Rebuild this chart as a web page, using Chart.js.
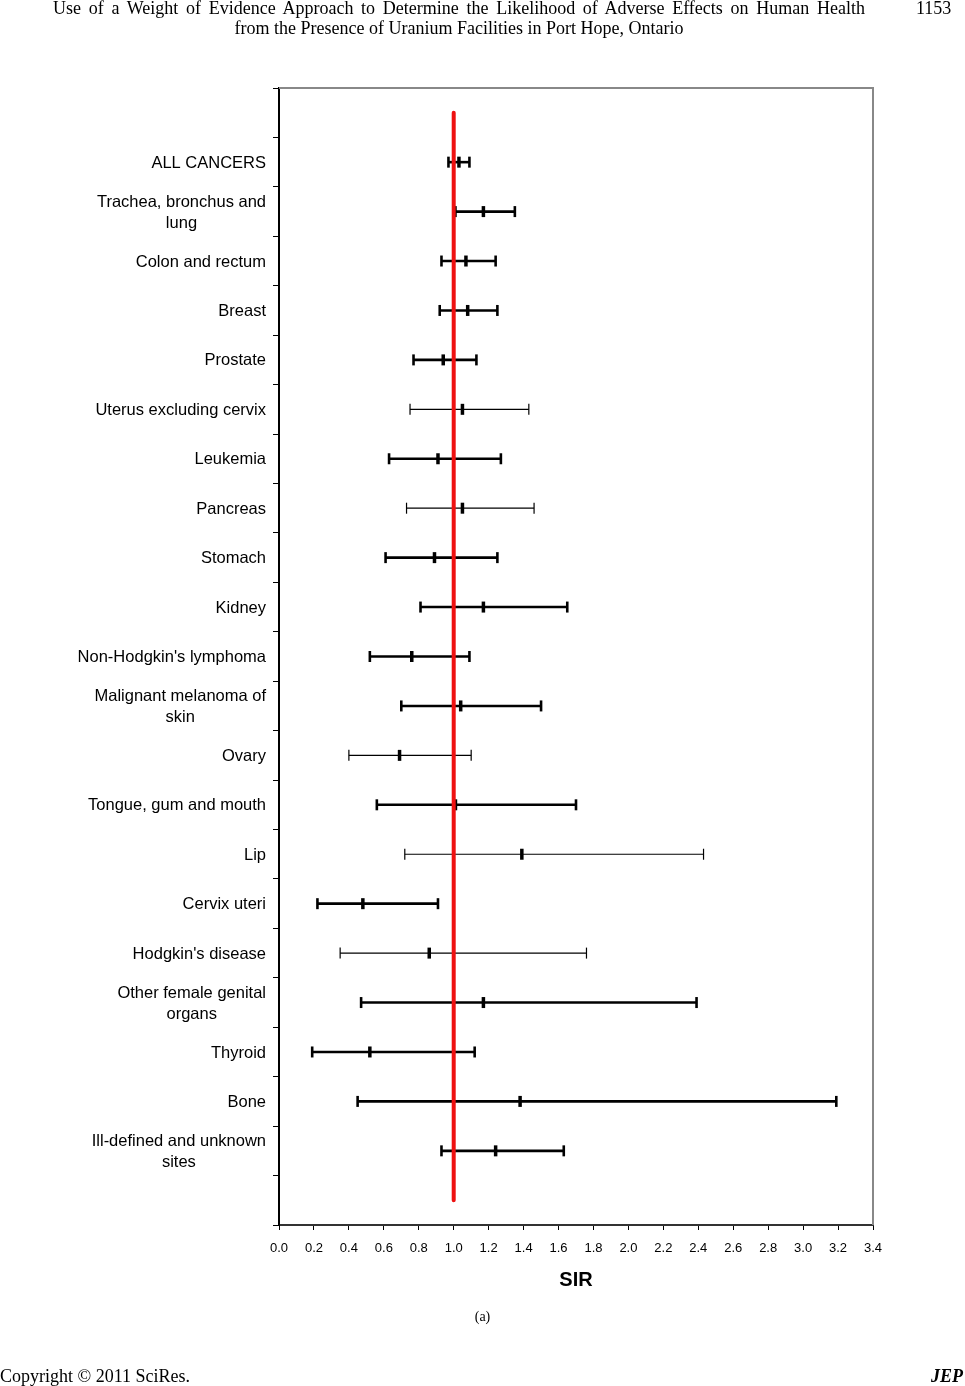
<!DOCTYPE html>
<html>
<head>
<meta charset="utf-8">
<script src="https://cdn.jsdelivr.net/npm/chart.js@4/dist/chart.umd.min.js"></script>
<style>
body{margin:0;background:#fff;}
#wrap{position:relative;width:965px;height:1386px;overflow:hidden;}
#c{position:absolute;left:0;top:0;}
.t{position:absolute;font-family:"Liberation Serif","Times New Roman",serif;color:#000;white-space:nowrap;}
</style>
</head>
<body>
<div id="wrap">
<canvas id="c" width="965" height="1386"></canvas>
<div class="t" style="left:0;width:918px;top:-2px;text-align:center;font-size:18px;line-height:20px;"><span style="word-spacing:3.2px;">Use of a Weight of Evidence Approach to Determine the Likelihood of Adverse Effects on Human Health</span><br>from the Presence of Uranium Facilities in Port Hope, Ontario</div>
<div class="t" style="left:916px;top:-2px;font-size:18px;line-height:20px;">1153</div>
<div class="t" style="left:0;width:965px;top:1309px;text-align:center;font-size:14px;">(a)</div>
<div class="t" style="left:0;top:1366px;font-size:18px;">Copyright © 2011 SciRes.</div>
<div class="t" style="right:2px;top:1366px;font-size:18px;font-weight:bold;font-style:italic;">JEP</div>
</div>
<script>
// cancer sites, top to bottom
const sites = [
  ['ALL CANCERS'],
  ['Trachea, bronchus and', 'lung'],
  ['Colon and rectum'],
  ['Breast'],
  ['Prostate'],
  ['Uterus excluding cervix'],
  ['Leukemia'],
  ['Pancreas'],
  ['Stomach'],
  ['Kidney'],
  ["Non-Hodgkin's lymphoma"],
  ['Malignant melanoma of', 'skin'],
  ['Ovary'],
  ['Tongue, gum and mouth'],
  ['Lip'],
  ['Cervix uteri'],
  ["Hodgkin's disease"],
  ['Other female genital', 'organs'],
  ['Thyroid'],
  ['Bone'],
  ['Ill-defined and unknown', 'sites']
];
const sir   = [1.03, 1.17, 1.07, 1.08, 0.94, 1.05, 0.91, 1.05, 0.89, 1.17, 0.76, 1.04, 0.69, 1.01, 1.39, 0.48, 0.86, 1.17, 0.52, 1.38, 1.24];
const lower = [0.97, 1.01, 0.93, 0.92, 0.77, 0.75, 0.63, 0.73, 0.61, 0.81, 0.52, 0.70, 0.40, 0.56, 0.72, 0.22, 0.35, 0.47, 0.19, 0.45, 0.93];
const upper = [1.09, 1.35, 1.24, 1.25, 1.13, 1.43, 1.27, 1.46, 1.25, 1.65, 1.09, 1.50, 1.10, 1.70, 2.43, 0.91, 1.76, 2.39, 1.12, 3.19, 1.63];
const refSIR = 1.0;
const xTicks = [0.0, 0.2, 0.4, 0.6, 0.8, 1.0, 1.2, 1.4, 1.6, 1.8, 2.0, 2.2, 2.4, 2.6, 2.8, 3.0, 3.2, 3.4];

// rows drawn with a thin whisker line
const thinRows = [5, 7, 12, 14, 16];
const nRows = sites.length + 2; // one empty row above and below

const datasets = [];
datasets.push({
  data: [{x: refSIR, y: 0.5}, {x: refSIR, y: nRows - 0.5}],
  showLine: true, borderColor: '#ee1111', borderWidth: 4, borderCapStyle: 'round',
  pointRadius: 0, order: 0
});
datasets.push({
  data: sir.map((v, i) => ({x: v, y: i + 1.5})),
  pointStyle: 'line', rotation: 90, pointRadius: 5.5,
  pointBorderColor: '#000', pointBorderWidth: 3.5, order: 1
});
sites.forEach((s, i) => {
  const w = thinRows.includes(i) ? 1.2 : 2.6;
  datasets.push({
    data: [{x: lower[i], y: i + 1.5}, {x: upper[i], y: i + 1.5}],
    showLine: true, borderColor: '#000', borderWidth: w,
    pointStyle: 'line', rotation: 90, pointRadius: 5.5,
    pointBorderColor: '#000', pointBorderWidth: w, order: 2
  });
});

const siteLabels = {
  id: 'siteLabels',
  afterDraw(chart) {
    const ctx = chart.ctx, ys = chart.scales.y;
    const right = chart.chartArea.left - 13;
    ctx.save();
    ctx.font = '16.5px "Liberation Sans", Arial, sans-serif';
    ctx.fillStyle = '#000';
    ctx.textAlign = 'center';
    ctx.textBaseline = 'middle';
    sites.forEach((lines, i) => {
      const y = ys.getPixelForValue(i + 1.5) + 1;
      const w = Math.max(...lines.map(l => ctx.measureText(l).width));
      lines.forEach((l, k) => {
        ctx.fillText(l, right - w / 2, y + (k - (lines.length - 1) / 2) * 21);
      });
    });
    ctx.restore();
  }
};

const frame = {
  id: 'frame',
  beforeDatasetsDraw(chart) {
    const {ctx, chartArea: a} = chart;
    ctx.save();
    ctx.strokeStyle = '#888';
    ctx.lineWidth = 2;
    ctx.beginPath();
    ctx.moveTo(a.left, a.top);
    ctx.lineTo(a.right, a.top);
    ctx.lineTo(a.right, a.bottom);
    ctx.stroke();
    ctx.restore();
  }
};

new Chart(document.getElementById('c'), {
  type: 'scatter',
  data: {datasets},
  plugins: [siteLabels, frame],
  options: {
    responsive: false,
    animation: false,
    devicePixelRatio: 1,
    layout: {padding: {top: 88, right: 92, bottom: 90, left: 0}},
    plugins: {legend: {display: false}, tooltip: {enabled: false}},
    scales: {
      x: {
        type: 'linear', min: 0, max: 3.4,
        afterBuildTicks: s => { s.ticks = xTicks.map(v => ({value: v})); },
        afterFit: s => { s.height = 71; },
        ticks: {
          callback: v => v.toFixed(1),
          color: '#000', padding: 11, maxRotation: 0, autoSkip: false,
          font: {family: '"Liberation Sans", Arial, sans-serif', size: 13}
        },
        grid: {drawOnChartArea: false, drawTicks: true, tickLength: 5, color: '#000'},
        border: {color: '#333', width: 2},
        title: {
          display: true, text: 'SIR', color: '#000',
          font: {family: '"Liberation Sans", Arial, sans-serif', size: 20, weight: 'bold'}
        }
      },
      y: {
        type: 'linear', min: 0, max: nRows, reverse: true,
        afterBuildTicks: s => { s.ticks = Array.from({length: nRows + 1}, (_, i) => ({value: i})); },
        afterFit: s => { s.width = 279; },
        ticks: {display: false},
        grid: {drawOnChartArea: false, drawTicks: true, tickLength: 6, color: '#000'},
        border: {color: '#000', width: 2}
      }
    }
  }
});
</script>
</body>
</html>
